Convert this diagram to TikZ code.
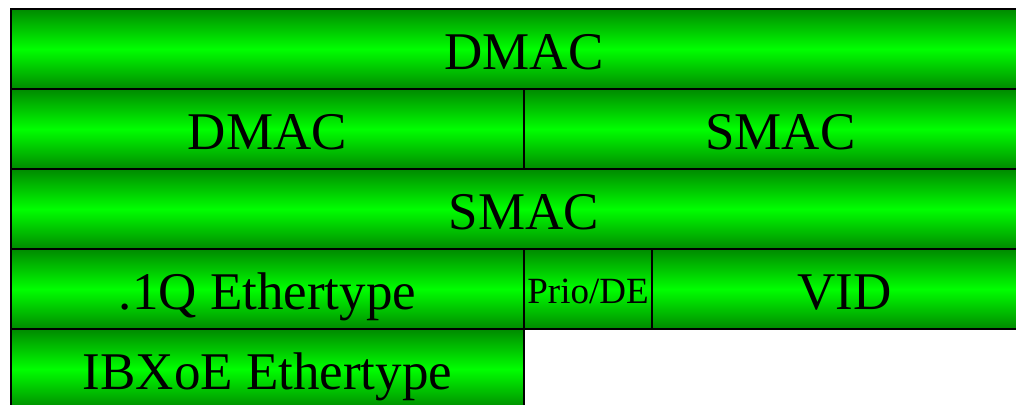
\documentclass[tikz,border=0pt]{standalone}
\usepackage{fontspec}
\setmainfont{Liberation Serif}
\definecolor{edgegreen}{rgb}{0,0.54,0}
\definecolor{midgreen}{rgb}{0,1,0}
\tikzset{
  field/.style={draw=black, line width=2pt, inner sep=0pt, outer sep=0pt,
    top color=edgegreen, bottom color=edgegreen, middle color=midgreen,
    minimum height=80pt, text height=41pt, text depth=0pt,
    font=\fontsize{53}{60}\selectfont},
  smallfield/.style={field, text height=28pt, font=\fontsize{37}{42}\selectfont},
}
\begin{document}
\begin{tikzpicture}[x=1pt, y=-1pt]
  \useasboundingbox (0,0) rectangle (1016,404);
  \clip (0,0) rectangle (1016,404);
  % row 1
  \node[field, minimum width=1026pt] (dmac1) at (524,49) {DMAC};
  % row 2
  \node[field, minimum width=513pt] (dmac2) at (267.5,129) {DMAC};
  \node[field, minimum width=513pt] (smac1) at (780.5,129) {SMAC};
  % row 3
  \node[field, minimum width=1026pt] (smac2) at (524,209) {SMAC};
  % row 4
  \node[field, minimum width=513pt] (qtype) at (267.5,289) {.1Q Ethertype};
  \node[smallfield, minimum width=128pt] (prio) at (588,289) {Prio/DE};
  \node[field, minimum width=385pt] (vid) at (844.5,289) {VID};
  % row 5
  \node[field, minimum width=513pt] (ibxoe) at (267.5,369) {IBXoE Ethertype};
\end{tikzpicture}
\end{document}
